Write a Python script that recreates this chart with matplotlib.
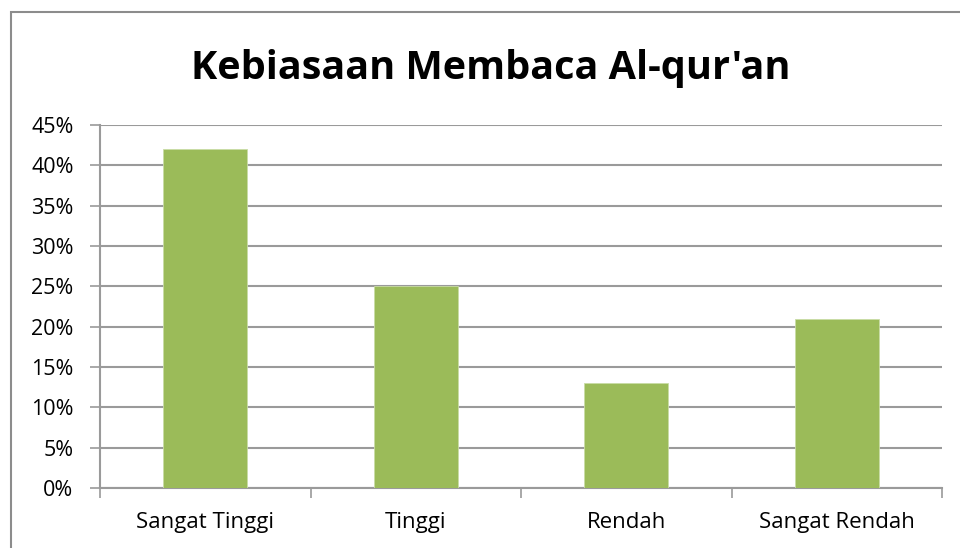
import numpy as np
import matplotlib
matplotlib.use('Agg')
import matplotlib.pyplot as plt
from matplotlib.patches import Rectangle
from matplotlib.ticker import FuncFormatter

categories = ['Sangat Tinggi', 'Tinggi', 'Rendah', 'Sangat Rendah']
values = [42, 25, 13, 21]
yticks = [0, 5, 10, 15, 20, 25, 30, 35, 40, 45]

plt.rcParams['font.family'] = ['Open Sans', 'DejaVu Sans']
grey = '#9a9a9a'

fig = plt.figure(figsize=(9.6, 5.48), dpi=100)
ax = fig.add_axes([100 / 960, 1 - 488 / 548, 842 / 960, 363 / 548])

x = np.arange(len(categories))
ax.bar(x, values, width=0.4, color='#9bbb59', edgecolor='#c9dca6', linewidth=0.6, zorder=3)

ax.set_xlim(-0.5, len(categories) - 0.5)
ax.set_ylim(0, 45)
ax.set_yticks(yticks)
ax.yaxis.set_major_formatter(FuncFormatter(lambda v, p: '%d%%' % v))
ax.grid(axis='y', color=grey, linewidth=1.5, zorder=0)

ax.set_xticks(x)
ax.set_xticklabels(categories)
ax.set_xticks(np.arange(-0.5, len(categories)), minor=True)
ax.tick_params(axis='x', which='major', length=0, pad=17, labelsize=16)
ax.tick_params(axis='x', which='minor', length=7, width=1.2, color=grey)
ax.tick_params(axis='y', length=7, width=1.2, color=grey, labelsize=15.5, pad=12)

for s in ['top', 'right']:
    ax.spines[s].set_visible(False)
for s in ['left', 'bottom']:
    ax.spines[s].set_color(grey)
    ax.spines[s].set_linewidth(1.5)

fig.text(491 / 960, 1 - 68 / 548, "Kebiasaan Membaca Al-qur'an", ha='center', va='center',
         fontsize=28.5, fontweight='bold')

fig.patches.append(Rectangle((11 / 960, -0.05), 1.1, 1 - 12 / 548 + 0.05,
                             transform=fig.transFigure, fill=False,
                             edgecolor='#8c8c8c', linewidth=1.5))

fig.savefig('out.png', dpi=100)
